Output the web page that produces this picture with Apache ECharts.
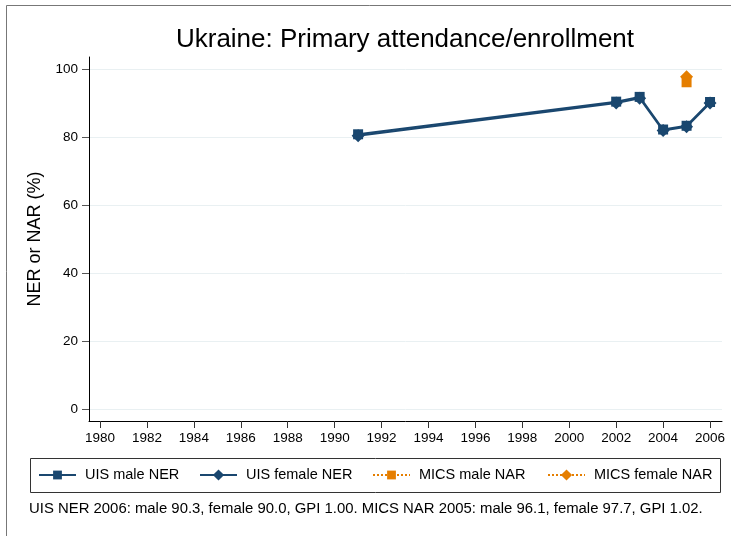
<!DOCTYPE html>
<html>
<head>
<meta charset="utf-8">
<script src="https://cdn.jsdelivr.net/npm/echarts@6/dist/echarts.min.js"></script>
<style>
  html, body { margin: 0; padding: 0; background: #fff; }
  #main { width: 731px; height: 536px; }
</style>
</head>
<body>
<div id="main"></div>
<script>
// data
const years = [1991, 2002, 2003, 2004, 2005, 2006];
const uisMale = [80.8, 90.4, 91.8, 82.2, 83.3, 90.3];
const uisFemale = [80.4, 90.0, 91.4, 81.9, 83.0, 90.0];
const micsYears = [2005];
const micsMale = [96.1];
const micsFemale = [97.7];
const xTicks = [1980, 1982, 1984, 1986, 1988, 1990, 1992, 1994, 1996, 1998, 2000, 2002, 2004, 2006];
const yTicks = [0, 20, 40, 60, 80, 100];

const navy = '#1a476f';
const orange = '#e57e00';
const font = 'Liberation Sans, Arial, sans-serif';

const pairs = (xs, ys) => xs.map((x, i) => [x, ys[i]]);

const chart = echarts.init(document.getElementById('main'));

const legendItem = (name, left, h) => ({
  data: [name],
  left: left,
  top: 476 - Math.max(h, 17) / 2,
  itemWidth: 37,
  itemHeight: h,
  padding: 0,
  textStyle: {fontFamily: font, fontSize: 14.5, color: '#000', padding: [0, 0, 0, 4]}
});

chart.setOption({
  animation: false,
  grid: {left: 89, right: 9, top: 57, bottom: 115},
  xAxis: {
    type: 'value',
    min: 1979.53,
    max: 2006.51,
    axisLine: {onZero: false, lineStyle: {color: '#000', width: 1}},
    axisTick: {length: 7, lineStyle: {color: '#333'}, customValues: xTicks},
    axisLabel: {
      customValues: xTicks,
      formatter: v => String(v),
      fontFamily: font, fontSize: 13.5, color: '#000', margin: 10
    },
    splitLine: {show: false}
  },
  yAxis: {
    type: 'value',
    min: -3.53,
    max: 103.53,
    name: 'NER or NAR (%)',
    nameLocation: 'middle',
    nameGap: 45,
    nameTextStyle: {fontFamily: font, fontSize: 18, color: '#000'},
    axisLine: {show: true, onZero: false, lineStyle: {color: '#000', width: 1}},
    axisTick: {show: true, length: 7, lineStyle: {color: '#555'}, customValues: yTicks},
    axisLabel: {
      customValues: yTicks,
      fontFamily: font, fontSize: 13.5, color: '#000', margin: 11
    },
    splitLine: {show: true, lineStyle: {color: '#e9f0f2', width: 1}}
  },
  legend: [
    legendItem('UIS male NER', 38, 11),
    legendItem('UIS female NER', 199, 14),
    legendItem('MICS male NAR', 372, 11),
    legendItem('MICS female NAR', 547, 14)
  ],
  graphic: [
    {
      type: 'rect',
      shape: {x: 6.5, y: 5.5, width: 800, height: 600},
      style: {fill: 'none', stroke: '#777', lineWidth: 1},
      silent: true
    },
    {
      type: 'text',
      x: 405,
      y: 40,
      style: {
        text: 'Ukraine: Primary attendance/enrollment',
        font: '26px ' + font,
        fill: '#000',
        textAlign: 'center',
        textVerticalAlign: 'middle'
      }
    },
    {
      type: 'rect',
      shape: {x: 30.5, y: 458.5, width: 690, height: 34},
      style: {fill: 'none', stroke: '#333', lineWidth: 1},
      silent: true
    },
    {
      type: 'text',
      x: 29,
      y: 509,
      style: {
        text: 'UIS NER 2006: male 90.3, female 90.0, GPI 1.00. MICS NAR 2005: male 96.1, female 97.7, GPI 1.02.',
        font: '14.9px ' + font,
        fill: '#000',
        textVerticalAlign: 'middle'
      }
    }
  ],
  series: [
    {
      name: 'UIS male NER',
      type: 'line',
      data: pairs(years, uisMale),
      symbol: 'rect',
      symbolSize: 10,
      lineStyle: {color: navy, width: 2},
      itemStyle: {color: navy}
    },
    {
      name: 'UIS female NER',
      type: 'line',
      data: pairs(years, uisFemale),
      symbol: 'diamond',
      symbolSize: 13,
      lineStyle: {color: navy, width: 2},
      itemStyle: {color: navy}
    },
    {
      name: 'MICS male NAR',
      type: 'line',
      data: pairs(micsYears, micsMale),
      symbol: 'rect',
      symbolSize: 10,
      lineStyle: {color: orange, width: 1.5, type: 'dotted'},
      itemStyle: {color: orange}
    },
    {
      name: 'MICS female NAR',
      type: 'line',
      data: pairs(micsYears, micsFemale),
      symbol: 'diamond',
      symbolSize: 13,
      lineStyle: {color: orange, width: 1.5, type: 'dotted'},
      itemStyle: {color: orange}
    }
  ]
});
</script>
</body>
</html>
